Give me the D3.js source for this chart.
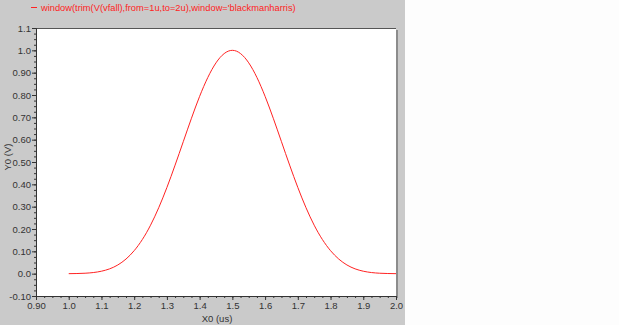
<!DOCTYPE html>
<html>
<head>
<meta charset="utf-8">
<script src="https://cdn.jsdelivr.net/npm/d3@7"></script>
<style>
  body { margin: 0; background: #fdfdfd; }
  svg { display: block; }
  text { font-family: "Liberation Sans", Arial, sans-serif; }
</style>
</head>
<body>
<div id="chart"></div>
<script>
// values
const xs = [1.0, 1.05, 1.1, 1.15, 1.2, 1.25, 1.3, 1.35, 1.4, 1.45, 1.5,
            1.55, 1.6, 1.65, 1.7, 1.75, 1.8, 1.85, 1.9, 1.95, 2.0];
const ys = [0.0, 0.002, 0.011, 0.039, 0.103, 0.217, 0.386, 0.591, 0.794, 0.944, 1.0,
            0.944, 0.794, 0.591, 0.386, 0.217, 0.103, 0.039, 0.011, 0.002, 0.0];
const xTicks = [0.9, 1.0, 1.1, 1.2, 1.3, 1.4, 1.5, 1.6, 1.7, 1.8, 1.9, 2.0];
const xTickLabels = ["0.90", "1.0", "1.1", "1.2", "1.3", "1.4", "1.5", "1.6", "1.7", "1.8", "1.9", "2.0"];
const yTicks = [-0.1, 0.0, 0.1, 0.2, 0.3, 0.4, 0.5, 0.6, 0.7, 0.8, 0.9, 1.0, 1.1];
const yTickLabels = ["-0.10", "0.0", "0.10", "0.20", "0.30", "0.40", "0.50", "0.60", "0.70", "0.80", "0.90", "1.0", "1.1"];
const legendText = "window(trim(V(vfall),from=1u,to=2u),window='blackmanharris)";

const W = 619, H = 325;
const pLeft = 36, pRight = 396, pTop = 28, pBottom = 296;

const svg = d3.select("#chart").append("svg")
  .attr("width", W).attr("height", H);

// gray panel
svg.append("rect").attr("x", 0).attr("y", 0).attr("width", 405).attr("height", H)
  .attr("fill", "#cacaca");

const x = d3.scaleLinear().domain([0.9, 2.0]).range([pLeft, pRight]);
const y = d3.scaleLinear().domain([-0.1, 1.1]).range([pBottom, pTop]);

// plot area + shadow
svg.append("rect").attr("x", pRight).attr("y", pTop + 2).attr("width", 2).attr("height", pBottom - pTop)
  .attr("fill", "#8c8c8c");
svg.append("rect").attr("x", pLeft).attr("y", pTop).attr("width", pRight - pLeft).attr("height", pBottom - pTop)
  .attr("fill", "#fff");
svg.append("line").attr("x1", pLeft).attr("x2", pRight).attr("y1", pTop + 0.5).attr("y2", pTop + 0.5)
  .attr("stroke", "#555");

// minor ticks (4 subdivisions)
const xMinor = d3.range(0, 45).map(i => 0.9 + i * 0.025);
const yMinor = d3.range(0, 49).map(i => -0.1 + i * 0.025);

const xAxis = d3.axisBottom(x).tickValues(xTicks).tickSize(4)
  .tickFormat((d, i) => xTickLabels[i]);
const yAxis = d3.axisLeft(y).tickValues(yTicks).tickSize(4)
  .tickFormat((d, i) => yTickLabels[i]);

const gx = svg.append("g").attr("transform", `translate(0,${pBottom})`).call(xAxis);
gx.selectAll(".tick").filter(d => d === 2.0).select("line").remove();
svg.append("g").attr("transform", `translate(0,${pBottom})`)
  .call(d3.axisBottom(x).tickValues(xMinor).tickSize(2).tickFormat(""))
  .select(".domain").remove();
const gy = svg.append("g").attr("transform", `translate(${pLeft},0)`).call(yAxis);
svg.append("g").attr("transform", `translate(${pLeft},0)`)
  .call(d3.axisLeft(y).tickValues(yMinor).tickSize(2).tickFormat(""))
  .select(".domain").remove();

svg.selectAll(".domain").attr("stroke", "#333");
svg.selectAll(".tick line").attr("stroke", "#333");
svg.selectAll(".tick text").attr("fill", "#333").attr("font-size", 9.5);
gx.selectAll(".tick text").attr("y", 6);
gy.selectAll(".tick text").attr("x", -5);

// curve
const line = d3.line()
  .x((d, i) => x(xs[i]))
  .y(d => y(d))
  .curve(d3.curveNatural);
svg.append("path").datum(ys)
  .attr("d", line)
  .attr("fill", "none")
  .attr("stroke", "#f22")
  .attr("stroke-width", 1);

// legend
svg.append("line").attr("x1", 31).attr("x2", 37).attr("y1", 7.5).attr("y2", 7.5)
  .attr("stroke", "#f22");
svg.append("text").attr("x", 41).attr("y", 11).attr("font-size", 9.3)
  .attr("fill", "#f22").text(legendText);

// axis titles
svg.append("text").attr("x", 217).attr("y", 322)
  .attr("text-anchor", "middle").attr("font-size", 9.5).attr("fill", "#333")
  .text("X0 (us)");
svg.append("text").attr("transform", "translate(11,157) rotate(-90)")
  .attr("text-anchor", "middle").attr("font-size", 9.5).attr("fill", "#333")
  .text("Y0 (V)");
</script>
</body>
</html>
